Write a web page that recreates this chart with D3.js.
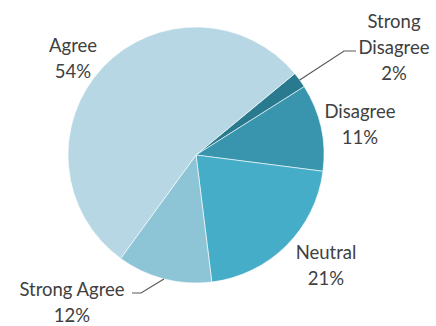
<!DOCTYPE html>
<html>
<head>
<meta charset="utf-8">
<script src="https://cdn.jsdelivr.net/npm/d3@7"></script>
<style>
  html, body { margin: 0; padding: 0; background: #ffffff; }
  svg { display: block; }
  text { font-family: Lato, "Open Sans", sans-serif; fill: #404040; }
</style>
</head>
<body>
<svg id="chart" width="436" height="326"></svg>
<script>
// ---- data ----
const categories = ["Strong Disagree", "Disagree", "Neutral", "Strong Agree", "Agree"];
const values = [2, 11, 21, 12, 54];
const percentLabels = ["2%", "11%", "21%", "12%", "54%"];
const colors = ["#2a7a8f", "#3895ad", "#46adc9", "#8dc4d6", "#b6d7e3"];

// ---- layout ----
const W = 436, H = 326;
const cx = 196, cy = 155, R = 128;
const startDeg = 50.5;
const fontSize = 18.5;
const lineGap = 26;
// label placement relative to pie centre (label block centre), plus leader flag
const labelLayout = {
  "Strong Disagree": { dx: 198, dy: -108, lines: ["Strong", "Disagree"], leader: { hx: 148, hy: -104, hlen: 12 } },
  "Disagree":        { dx: 164, dy: -31,  lines: ["Disagree"] },
  "Neutral":         { dx: 130, dy: 110,  lines: ["Neutral"] },
  "Strong Agree":    { dx: -124, dy: 147, lines: ["Strong Agree"], leader: { hx: -55, hy: 138, hlen: -9 } },
  "Agree":           { dx: -123, dy: -97, lines: ["Agree"] }
};

const svg = d3.select("#chart");
const g = svg.append("g").attr("transform", `translate(${cx},${cy})`);

const start = startDeg * Math.PI / 180;
const pie = d3.pie().sort(null).value(d => d.value)
  .startAngle(start).endAngle(start + 2 * Math.PI);
const arc = d3.arc().innerRadius(0).outerRadius(R);
const edgeArc = d3.arc().innerRadius(R).outerRadius(R);

const data = categories.map((c, i) => ({ cat: c, value: values[i], pct: percentLabels[i], color: colors[i] }));
const arcs = pie(data);

g.selectAll("path.slice").data(arcs).enter().append("path")
  .attr("class", "slice")
  .attr("d", arc)
  .attr("fill", d => d.data.color)
  .attr("stroke", "#ffffff")
  .attr("stroke-width", 0.6);

// leader lines
arcs.forEach(a => {
  const L = labelLayout[a.data.cat];
  if (!L.leader) return;
  const [ex, ey] = edgeArc.centroid(a);
  const p = d3.path();
  p.moveTo(ex, ey);
  p.lineTo(L.leader.hx, L.leader.hy);
  p.lineTo(L.leader.hx + L.leader.hlen, L.leader.hy);
  g.append("path").attr("d", p.toString())
    .attr("fill", "none").attr("stroke", "#5a5a5a").attr("stroke-width", 1.2);
});

// labels
arcs.forEach(a => {
  const L = labelLayout[a.data.cat];
  const lines = L.lines.concat([a.data.pct]);
  const n = lines.length;
  const t = g.append("text")
    .attr("text-anchor", "middle")
    .attr("font-size", fontSize)
    .attr("dominant-baseline", "central");
  lines.forEach((ln, i) => {
    t.append("tspan")
      .attr("x", L.dx)
      .attr("y", L.dy + (i - (n - 1) / 2) * lineGap)
      .text(ln);
  });
});
</script>
</body>
</html>
